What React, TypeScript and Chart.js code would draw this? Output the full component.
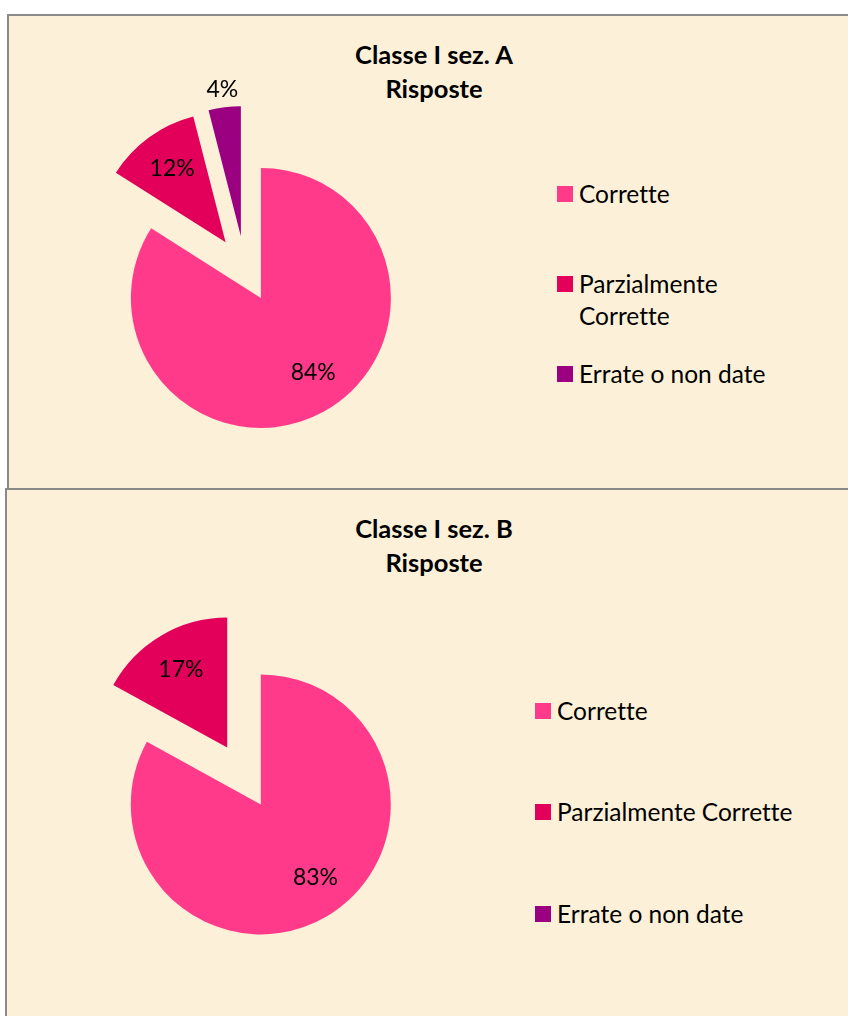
import React, { useEffect, useRef } from "react";
import { Chart, registerables } from "chart.js";

Chart.register(...registerables);

// ---- data ----
const categories = ["Corrette", "Parzialmente Corrette", "Errate o non date"];
const valuesA = [84, 12, 4];
const valuesB = [83, 17, 0];
const titleA = ["Classe I sez. A", "Risposte"];
const titleB = ["Classe I sez. B", "Risposte"];
const legendLinesA = [["Corrette"], ["Parzialmente", "Corrette"], ["Errate o non date"]];
const legendLinesB = [["Corrette"], ["Parzialmente Corrette"], ["Errate o non date"]];

// ---- style ----
const COLORS = ["#FF3A8A", "#E2005B", "#9A0080"];
const FONT = "Lato, 'Open Sans', sans-serif";
const BG = "#FCF1D8";
const BORDER = "#8A8A8A";
const EXPLODE = 33;
const RADIUS = 130;
const CANVAS = 380;

const explodePlugin = {
  id: "explodeSlices",
  afterDatasetsUpdate(chart: any, _args: any, opts: any) {
    const d = opts.distance || 0;
    chart.getDatasetMeta(0).data.forEach((arc: any) => {
      const mid = (arc.startAngle + arc.endAngle) / 2;
      arc.x += Math.cos(mid) * d;
      arc.y += Math.sin(mid) * d;
    });
  },
};

const pctLabels = {
  id: "pctLabels",
  afterDatasetsDraw(chart: any, _args: any, opts: any) {
    const ds = chart.data.datasets[0].data as number[];
    const total = ds.reduce((a, b) => a + b, 0);
    const ctx = chart.ctx;
    ctx.save();
    ctx.font = opts.font;
    ctx.fillStyle = "#000";
    ctx.textAlign = "center";
    ctx.textBaseline = "middle";
    chart.getDatasetMeta(0).data.forEach((arc: any, i: number) => {
      const v = ds[i];
      if (!v) return;
      const pct = Math.round((v / total) * 100);
      let mid = (arc.startAngle + arc.endAngle) / 2;
      // large slices: label pulled toward the slice start (best-fit placement)
      if (pct > 50) mid -= opts.largeShift;
      const f = pct < 5 ? opts.outside : opts.inside;
      const r = arc.outerRadius * f;
      ctx.fillText(pct + "%", arc.x + Math.cos(mid) * r, arc.y + Math.sin(mid) * r);
    });
    ctx.restore();
  },
};

function Pie({ values, left, top }: { values: number[]; left: number; top: number }) {
  const ref = useRef<HTMLCanvasElement>(null);
  useEffect(() => {
    const chart = new Chart(ref.current as HTMLCanvasElement, {
      type: "pie",
      data: {
        labels: categories,
        datasets: [{ data: values, backgroundColor: COLORS, borderWidth: 0 }],
      },
      options: {
        responsive: false,
        animation: false,
        radius: RADIUS,
        events: [],
        layout: { padding: 0 },
        plugins: {
          legend: { display: false },
          tooltip: { enabled: false },
          title: { display: false },
          explodeSlices: { distance: EXPLODE },
          pctLabels: { font: `23px ${FONT}`, inside: 0.7, outside: 1.14, largeShift: 0.11 },
        } as any,
      } as any,
      plugins: [explodePlugin, pctLabels],
    });
    return () => chart.destroy();
  }, []);
  return (
    <canvas
      ref={ref}
      width={CANVAS}
      height={CANVAS}
      style={{ position: "absolute", left, top, width: CANVAS, height: CANVAS }}
    />
  );
}

function Title({ lines, centerY }: { lines: string[]; centerY: number }) {
  return (
    <div
      style={{
        position: "absolute",
        left: 0,
        width: 868,
        top: centerY - 17,
        textAlign: "center",
        font: `bold 25.5px ${FONT}`,
        fontVariantLigatures: "none",
        lineHeight: "34px",
        color: "#000",
      }}
    >
      {lines.map((l, i) => (
        <div key={i}>{l}</div>
      ))}
    </div>
  );
}

function Legend({ lines, x, centers }: { lines: string[][]; x: number; centers: number[] }) {
  return (
    <>
      {lines.map((ls, i) => (
        <div key={i} style={{ position: "absolute", left: x, top: centers[i] - 16 }}>
          <div
            style={{
              position: "absolute",
              left: 0,
              top: 8,
              width: 16,
              height: 16,
              background: COLORS[i],
            }}
          />
          <div
            style={{
              position: "absolute",
              left: 22,
              top: 0,
              whiteSpace: "nowrap",
              font: `24.5px ${FONT}`,
              fontVariantLigatures: "none",
              lineHeight: "32px",
              color: "#000",
            }}
          >
            {ls.map((l, j) => (
              <div key={j}>{l}</div>
            ))}
          </div>
        </div>
      ))}
    </>
  );
}

export default function App() {
  return (
    <div style={{ position: "fixed", left: 0, top: 0, width: 848, height: 1016, overflow: "hidden", background: "#fff" }}>
      <div
        style={{
          position: "absolute",
          left: 7,
          top: 14,
          width: 860,
          height: 500,
          background: BG,
          border: `2px solid ${BORDER}`,
          boxSizing: "border-box",
        }}
      />
      <Title lines={titleA} centerY={54} />
      <Pie values={valuesA} left={245 - CANVAS / 2} top={269 - CANVAS / 2} />
      <Legend lines={legendLinesA} x={557} centers={[194, 284, 374]} />

      <div
        style={{
          position: "absolute",
          left: 5,
          top: 488,
          width: 860,
          height: 560,
          background: BG,
          border: `2px solid ${BORDER}`,
          boxSizing: "border-box",
        }}
      />
      <Title lines={titleB} centerY={528} />
      <Pie values={valuesB} left={244 - CANVAS / 2} top={776 - CANVAS / 2} />
      <Legend lines={legendLinesB} x={535} centers={[711, 812, 914]} />
    </div>
  );
}
